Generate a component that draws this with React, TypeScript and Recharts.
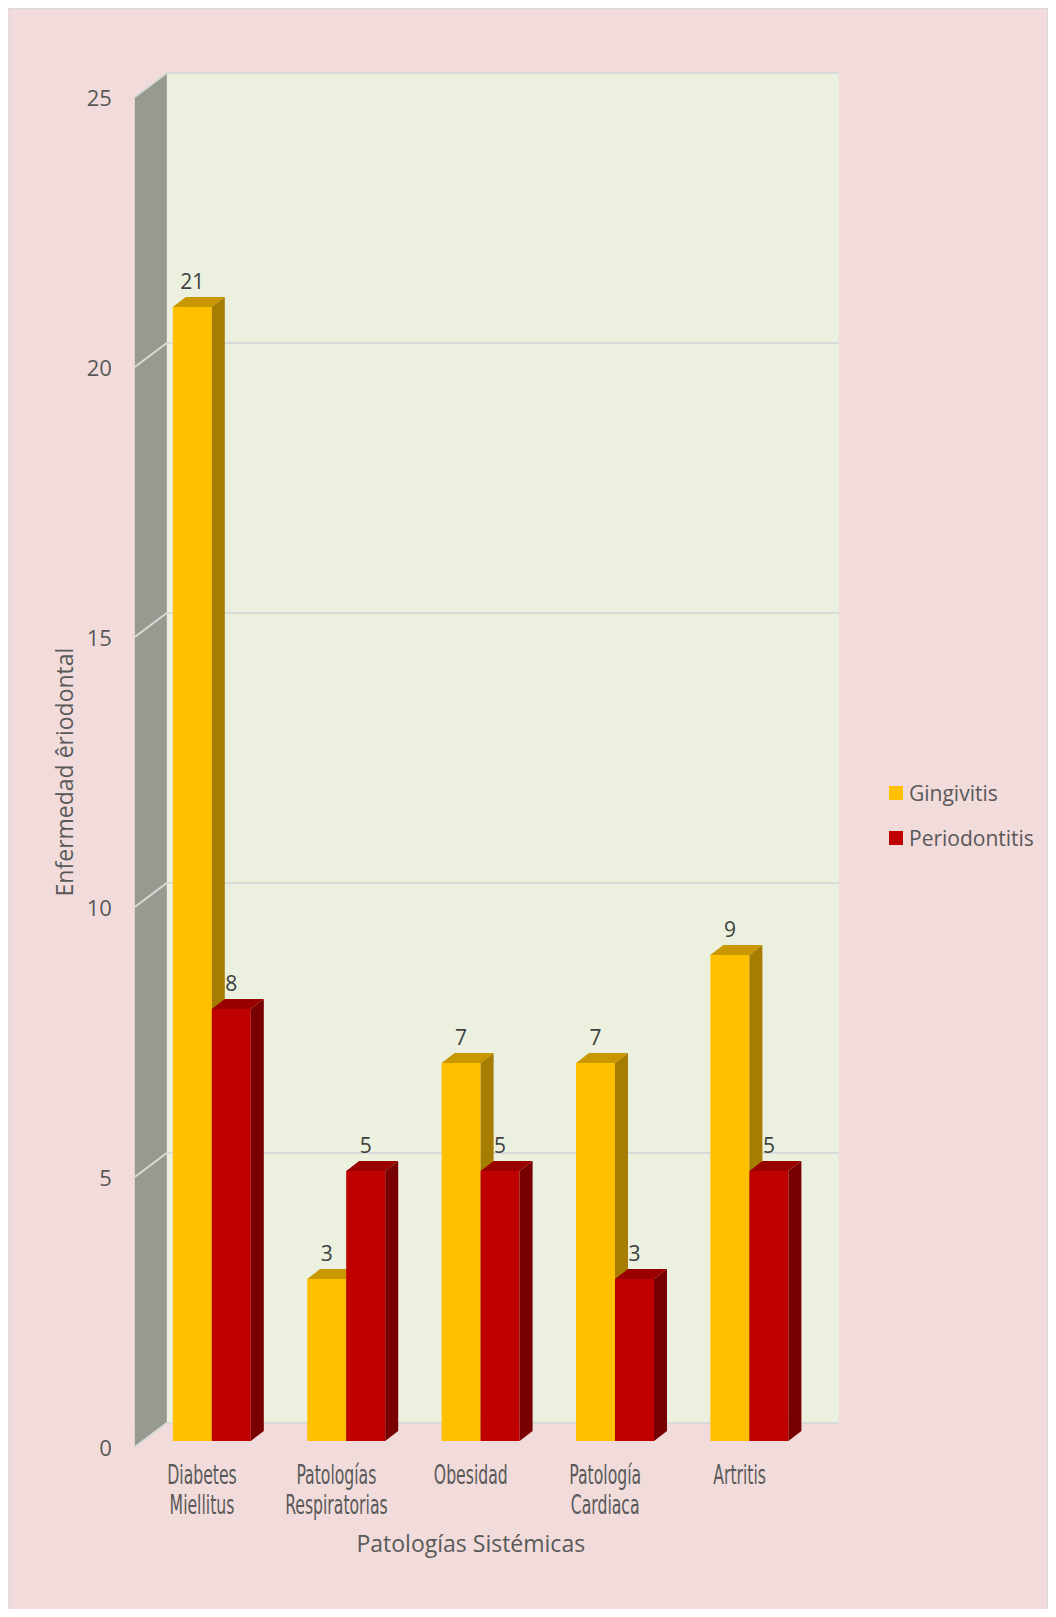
import { BarChart, Bar, XAxis, YAxis, CartesianGrid, LabelList } from 'recharts'

const CATEGORIES = ['Diabetes\nMiellitus', 'Patologías\nRespiratorias', 'Obesidad', 'Patología\nCardiaca', 'Artritis']
const GINGIVITIS = [21, 3, 7, 7, 9]
const PERIODONTITIS = [8, 5, 5, 3, 5]
const SERIES = ['Gingivitis', 'Periodontitis']
const Y_TICKS = [0, 5, 10, 15, 20, 25]

const COLORS = [
  { front: '#FFC000', top: '#C99700', side: '#A67D00' },
  { front: '#C00000', top: '#9A0000', side: '#780000' },
]

// 3D offsets relative to the bar plane
const FRONT = { dx: -10, dy: 6 }
const BACK = { dx: 22, dy: -18 }
const DEPTH = { dx: 13, dy: -10 }

const TEXT = '#595959'
const FONT = '"Open Sans", sans-serif'

const data = CATEGORIES.map((c, i) => ({ name: c, g: GINGIVITIS[i], p: PERIODONTITIS[i] }))

const bar3d = (colors: typeof COLORS[0]) => (props: any) => {
  const { x, y, width: w, height: h } = props
  if (h == null || h <= 0) return <g />
  return (
    <g>
      <rect x={x} y={y} width={w} height={h} fill={colors.front} />
      <polygon points={`${x},${y} ${x + DEPTH.dx},${y + DEPTH.dy} ${x + w + DEPTH.dx},${y + DEPTH.dy} ${x + w},${y}`} fill={colors.top} />
      <polygon points={`${x + w},${y} ${x + w + DEPTH.dx},${y + DEPTH.dy} ${x + w + DEPTH.dx},${y + h + DEPTH.dy} ${x + w},${y + h}`} fill={colors.side} />
    </g>
  )
}

// walls are drawn together with the first grid line so that all lines sit on top of them
const gridLine = (props: any) => {
  const { x1, x2, y1, index, x, y, width, height } = props
  return (
    <g key={`gl-${index}`}>
      {index === 0 && (
        <g>
          <rect x={x + BACK.dx} y={y + BACK.dy} width={width} height={height} fill="#EBF1DE" />
          <polygon
            points={`${x + FRONT.dx},${y + FRONT.dy} ${x + BACK.dx},${y + BACK.dy} ${x + BACK.dx},${y + height + BACK.dy} ${x + FRONT.dx},${y + height + FRONT.dy}`}
            fill="#969A8F"
          />
        </g>
      )}
      <polyline
        points={`${x1 + FRONT.dx},${y1 + FRONT.dy} ${x1 + BACK.dx},${y1 + BACK.dy} ${x2 + BACK.dx},${y1 + BACK.dy}`}
        fill="none"
        stroke="#D9D9D9"
        strokeWidth={2}
      />
    </g>
  )
}

const YTick = (props: any) => {
  const { x, y, payload } = props
  return (
    <text x={x - 33} y={y + FRONT.dy + 1} dy="0.35em" textAnchor="end" fill={TEXT} fontSize={22} fontFamily={FONT}>
      {payload.value}
    </text>
  )
}

const XTick = (props: any) => {
  const { x, y, payload } = props
  const lines = String(payload.value).split('\n')
  return (
    <g transform={`translate(${x + FRONT.dx},${y})`}>
      {lines.map((l, i) => (
        <text
          key={i}
          transform={`translate(0,${43 + i * 30}) scale(0.67,1)`}
          textAnchor="middle"
          fill={TEXT}
          fontSize={26}
          fontFamily='"Liberation Sans Narrow", "DejaVu Sans Condensed", sans-serif'
        >
          {l}
        </text>
      ))}
    </g>
  )
}

const barLabel = (props: any) => {
  const { x, y, width, value } = props
  return (
    <text x={x + width / 2} y={y - 25} dy="0.35em" textAnchor="middle" fill="#404040" fontSize={21} fontFamily={FONT}>
      {value}
    </text>
  )
}

export default function App() {
  return (
    <div style={{ position: 'relative', width: 1040, height: 1601, background: '#F2DCDB' }}>
      <div style={{ position: 'absolute', left: 1, top: 0, width: 1037, height: 1600, border: '1px solid #D9D9D9', boxSizing: 'content-box', pointerEvents: 'none' }} />
      <BarChart
        width={1040}
        height={1601}
        data={data}
        margin={{ top: 83, right: 231.2, bottom: 68, left: 76.8 }}
        barGap={0}
      >
        <CartesianGrid vertical={false} horizontal={gridLine} />
        <XAxis
          dataKey="name"
          axisLine={false}
          tickLine={false}
          tickSize={0}
          tickMargin={0}
          height={100}
          interval={0}
          tick={XTick}
          label={{
            content: (p: any) => {
              const vb = p.viewBox || {}
              return (
                <text x={vb.x + vb.width / 2 + FRONT.dx} y={vb.y + 111} textAnchor="middle" fill={TEXT} fontSize={23} fontFamily={FONT}>
                  Patologías Sistémicas
                </text>
              )
            },
          }}
        />
        <YAxis
          domain={[0, 25]}
          ticks={Y_TICKS}
          axisLine={false}
          tickLine={false}
          tickSize={0}
          tickMargin={0}
          width={60}
          tick={YTick}
          label={{
            content: (p: any) => {
              const vb = p.viewBox || {}
              const cx = 57
              const cy = vb.y + vb.height / 2 + FRONT.dy
              return (
                <text x={cx} y={cy} dy="0.35em" transform={`rotate(-90,${cx},${cy})`} textAnchor="middle" fill={TEXT} fontSize={23} fontFamily={FONT}>
                  Enfermedad êriodontal
                </text>
              )
            },
          }}
        />
        <Bar dataKey="g" name={SERIES[0]} barSize={39} shape={bar3d(COLORS[0])} isAnimationActive={false}>
          <LabelList dataKey="g" content={barLabel} />
        </Bar>
        <Bar dataKey="p" name={SERIES[1]} barSize={39} shape={bar3d(COLORS[1])} isAnimationActive={false}>
          <LabelList dataKey="p" content={barLabel} />
        </Bar>
      </BarChart>
      <div style={{ position: 'absolute', left: 881, top: 762, fontFamily: FONT, fontSize: 21, color: TEXT }}>
        {SERIES.map((s, i) => (
          <div key={s} style={{ display: 'flex', alignItems: 'center', height: 45 }}>
            <span style={{ display: 'inline-block', width: 14, height: 14, background: COLORS[i].front, marginRight: 6 }} />
            <span>{s}</span>
          </div>
        ))}
      </div>
    </div>
  )
}
